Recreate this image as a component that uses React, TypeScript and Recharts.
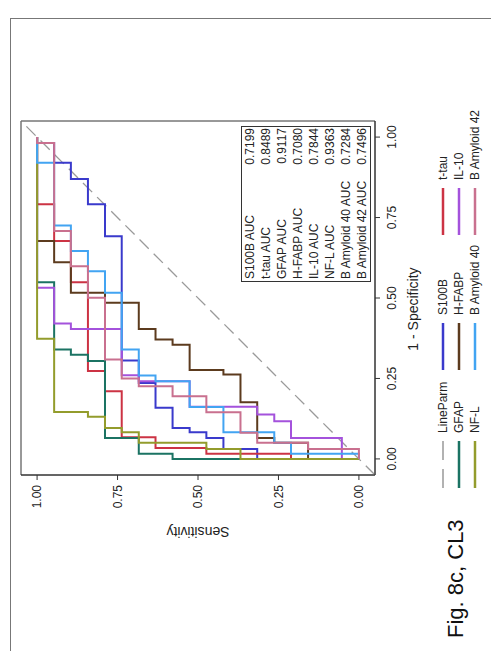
import { LineChart, Line, XAxis, YAxis, ReferenceArea, Label } from "recharts";

const FONT = '"Liberation Sans", Arial, sans-serif';

// ROC points as [1 - specificity, sensitivity]
const s100b: [number, number][] = [
  [1, 1], [0.982, 1], [0.982, 0.947], [0.92, 0.947], [0.92, 0.895], [0.87, 0.895], [0.87, 0.842],
  [0.791, 0.842], [0.791, 0.789], [0.692, 0.789], [0.692, 0.737], [0.306, 0.737], [0.306, 0.684],
  [0.236, 0.684], [0.236, 0.632], [0.159, 0.632], [0.159, 0.579], [0.096, 0.579], [0.096, 0.526],
  [0.083, 0.526], [0.083, 0.474], [0.065, 0.474], [0.065, 0.421], [0.031, 0.421], [0.031, 0.316],
  [0, 0.316], [0, 0],
];
const tTau: [number, number][] = [
  [1, 1], [0.791, 1], [0.791, 0.947], [0.677, 0.947], [0.677, 0.895], [0.549, 0.895], [0.549, 0.842],
  [0.273, 0.842], [0.273, 0.789], [0.21, 0.789], [0.21, 0.737], [0.067, 0.737], [0.067, 0.632],
  [0.034, 0.632], [0.034, 0.474], [0.016, 0.474], [0.016, 0.211], [0, 0.211], [0, 0],
];
const gfap: [number, number][] = [
  [1, 1], [0.549, 1], [0.549, 0.947], [0.34, 0.947], [0.34, 0.895], [0.324, 0.895], [0.324, 0.842],
  [0.304, 0.842], [0.304, 0.789], [0.065, 0.789], [0.065, 0.684], [0.016, 0.684], [0.016, 0.579],
  [0, 0.579], [0, 0],
];
const hfabp: [number, number][] = [
  [1, 1], [0.677, 1], [0.677, 0.947], [0.611, 0.947], [0.611, 0.895], [0.516, 0.895], [0.516, 0.789],
  [0.485, 0.789], [0.485, 0.684], [0.404, 0.684], [0.404, 0.632], [0.371, 0.632], [0.371, 0.579],
  [0.355, 0.579], [0.355, 0.526], [0.276, 0.526], [0.276, 0.421], [0.262, 0.421], [0.262, 0.368],
  [0.176, 0.368], [0.176, 0.316], [0.065, 0.316], [0.065, 0.263], [0.05, 0.263], [0.05, 0.158],
  [0, 0.158], [0, 0],
];
const il10: [number, number][] = [
  [1, 1], [0.532, 1], [0.532, 0.947], [0.421, 0.947], [0.421, 0.895], [0.404, 0.895], [0.404, 0.737],
  [0.26, 0.737], [0.26, 0.684], [0.241, 0.684], [0.241, 0.526], [0.162, 0.526], [0.162, 0.316],
  [0.138, 0.316], [0.138, 0.263], [0.117, 0.263], [0.117, 0.211], [0.065, 0.211], [0.065, 0.053],
  [0, 0.053], [0, 0],
];
const nfl: [number, number][] = [
  [1, 1], [0.373, 1], [0.373, 0.947], [0.146, 0.947], [0.146, 0.842], [0.131, 0.842], [0.131, 0.789],
  [0.096, 0.789], [0.096, 0.737], [0.083, 0.737], [0.083, 0.684], [0.05, 0.684], [0.05, 0.474],
  [0.031, 0.474], [0.031, 0.368], [0, 0.368], [0, 0],
];
const ba40: [number, number][] = [
  [1, 1], [0.92, 1], [0.92, 0.947], [0.725, 0.947], [0.725, 0.895], [0.646, 0.895], [0.646, 0.842],
  [0.583, 0.842], [0.583, 0.789], [0.516, 0.789], [0.516, 0.737], [0.34, 0.737], [0.34, 0.684],
  [0.259, 0.684], [0.259, 0.632], [0.241, 0.632], [0.241, 0.526], [0.161, 0.526], [0.161, 0.421],
  [0.083, 0.421], [0.083, 0.263], [0.05, 0.263], [0.05, 0.211], [0.016, 0.211], [0.016, 0], [0, 0],
];
const ba42: [number, number][] = [
  [1, 1], [0.982, 1], [0.982, 0.947], [0.708, 0.947], [0.708, 0.895], [0.599, 0.895], [0.599, 0.842],
  [0.501, 0.842], [0.501, 0.789], [0.309, 0.789], [0.309, 0.737], [0.25, 0.737], [0.25, 0.684],
  [0.226, 0.684], [0.226, 0.579], [0.195, 0.579], [0.195, 0.474], [0.145, 0.474], [0.145, 0.368],
  [0.081, 0.368], [0.081, 0.316], [0.05, 0.316], [0.05, 0.158], [0.031, 0.158], [0.031, 0], [0, 0],
];
const lineParm: [number, number][] = [[-0.05, -0.05], [1.05, 1.05]];

const seriesNames = ["S100B", "t-tau", "GFAP", "H-FABP", "IL-10", "NF-L", "B Amyloid 40", "B Amyloid 42"];
const seriesColors = ["#3a3acc", "#cc3344", "#1b7363", "#5c3b1e", "#a452dc", "#939c2c", "#42a4f2", "#c9708f"];
const seriesPoints = [s100b, tTau, gfap, hfabp, il10, nfl, ba40, ba42];
const aucValues = ["0.7199", "0.8489", "0.9117", "0.7080", "0.7844", "0.9363", "0.7284", "0.7496"];

const axisTicks = [0, 0.25, 0.5, 0.75, 1];

const legendNames = ["LineParm", ...seriesNames];
const legendColors = ["#999999", ...seriesColors];

const toRows = (pts: [number, number][]) => pts.map(([fpr, sens]) => ({ fpr, sens }));

const XTitle = (props: any) => {
  const vb = props.viewBox || { x: 176, y: 375, width: 354, height: 30 };
  return (
    <text x={vb.x + vb.width / 2 - 11} y={vb.y + 43} textAnchor="middle" fontSize={14} fill="#222" fontFamily={FONT}>
      1 - Specificity
    </text>
  );
};

const YTitle = (props: any) => {
  const vb = props.viewBox || { x: 106, y: 21, width: 70, height: 354 };
  const x = vb.x + 18;
  const y = vb.y + vb.height / 2;
  return (
    <text x={x} y={y} transform={`rotate(-90 ${x} ${y})`} textAnchor="middle" fontSize={14} fill="#222" fontFamily={FONT}>
      Sensitivity
    </text>
  );
};

const legendCols = [163, 281, 416];
const legendRows = [443, 459, 475];

function App() {
  return (
    <div style={{ position: "absolute", left: 0, top: 0, width: 491, height: 651, overflow: "hidden", background: "#fff" }}>
      <div style={{ position: "absolute", left: 10, top: 18, width: 600, height: 800, borderLeft: "1px solid #777", borderTop: "1px solid #777" }} />
      <div
        style={{
          position: "absolute",
          left: -80,
          top: 80,
          width: 651,
          height: 491,
          transform: "rotate(-90deg)",
          transformOrigin: "50% 50%",
          fontFamily: FONT,
          color: "#222",
        }}
      >
        <LineChart width={651} height={491} margin={{ top: 21, right: 121, left: 106, bottom: 86 }}>
          <XAxis
            type="number"
            dataKey="fpr"
            domain={[-0.05, 1.05]}
            ticks={axisTicks}
            tickFormatter={(v: number) => v.toFixed(2)}
            height={30}
            tickSize={5}
            tickMargin={7}
            stroke="#333"
            tick={{ fontSize: 12, fill: "#222", fontFamily: FONT }}
            allowDataOverflow
          >
            <Label content={XTitle} />
          </XAxis>
          <YAxis
            type="number"
            domain={[-0.05, 1.05]}
            ticks={axisTicks}
            tickFormatter={(v: number) => v.toFixed(2)}
            width={70}
            tickSize={5}
            tickMargin={5}
            stroke="#333"
            tick={{ fontSize: 12, fill: "#222", fontFamily: FONT }}
            allowDataOverflow
          >
            <Label content={YTitle} />
          </YAxis>
          <ReferenceArea x1={-0.05} x2={1.05} y1={-0.05} y2={1.05} fill="none" stroke="#333" strokeWidth={1} ifOverflow="visible" />
          <Line
            data={toRows(lineParm)}
            dataKey="sens"
            type="linear"
            stroke="#9a9a9a"
            strokeWidth={1.3}
            strokeDasharray="13 7"
            dot={false}
            activeDot={false}
            isAnimationActive={false}
          />
          {seriesPoints.map((pts, i) => (
            <Line
              key={seriesNames[i]}
              data={toRows(pts)}
              dataKey="sens"
              name={seriesNames[i]}
              type="linear"
              stroke={seriesColors[i]}
              strokeWidth={2}
              dot={false}
              activeDot={false}
              isAnimationActive={false}
            />
          ))}
        </LineChart>

        {/* AUC table */}
        <div
          style={{
            position: "absolute",
            left: 369,
            top: 241,
            width: 156,
            boxSizing: "border-box",
            border: "1px solid #333",
            background: "#fff",
            fontSize: 12,
            lineHeight: "16px",
          }}
        >
          {seriesNames.map((n, i) => (
            <div key={n} style={{ display: "flex", justifyContent: "space-between", padding: "0 1px 0 2px", whiteSpace: "nowrap" }}>
              <span>{n} AUC</span>
              <span>{aucValues[i]}</span>
            </div>
          ))}
        </div>

        {/* legend */}
        <svg style={{ position: "absolute", left: 0, top: 0 }} width={651} height={491}>
          {legendNames.map((n, i) => {
            const cx = legendCols[i % 3];
            const cy = legendRows[Math.floor(i / 3)];
            return (
              <g key={n}>
                <line
                  x1={cx}
                  x2={cx + 47}
                  y1={cy}
                  y2={cy}
                  stroke={legendColors[i]}
                  strokeWidth={i === 0 ? 1.5 : 2.5}
                  strokeDasharray={i === 0 ? "19 9" : undefined}
                />
                <text x={cx + 55} y={cy + 4.3} fontSize={12} fill="#222" fontFamily={FONT}>
                  {n}
                </text>
              </g>
            );
          })}
          <text x={13} y={463} fontSize={22} fill="#111" fontFamily={FONT}>
            Fig. 8c, CL3
          </text>
        </svg>
      </div>
    </div>
  );
}

export default App;
